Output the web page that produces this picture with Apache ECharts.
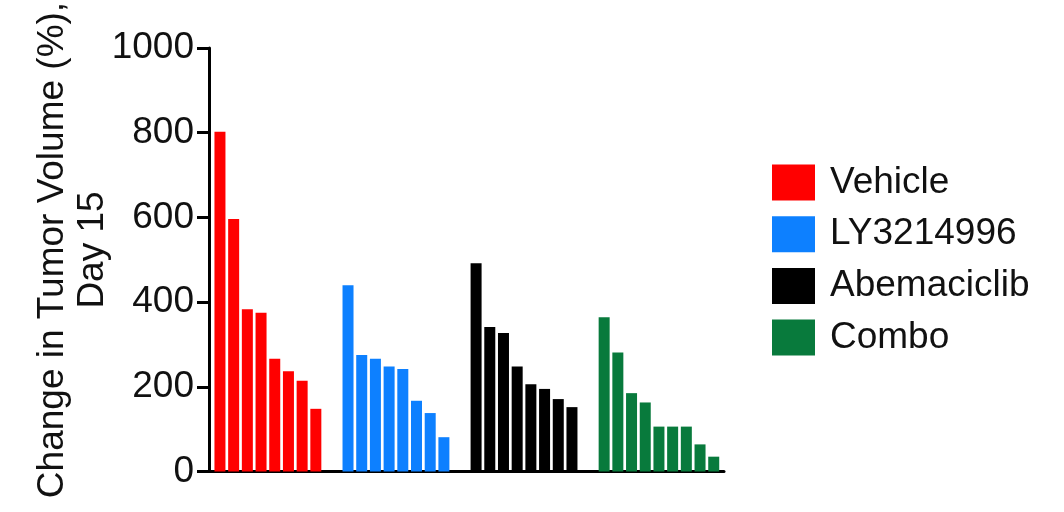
<!DOCTYPE html>
<html>
<head>
<meta charset="utf-8">
<style>
  html, body { margin: 0; padding: 0; background: #ffffff; }
  #chart { width: 1064px; height: 512px; }
</style>
<script src="https://cdn.jsdelivr.net/npm/echarts@6/dist/echarts.min.js"></script>
</head>
<body>
<div id="chart"></div>
<script>
// Per-animal change in tumor volume at day 15, sorted high to low within each arm
const groups = ['Vehicle', 'LY3214996', 'Abemaciclib', 'Combo'];
const vehicle = [802, 596, 383, 375, 266, 237, 214, 148];
const ly3214996 = [440, 275, 266, 248, 242, 167, 138, 81];
const abemaciclib = [492, 341, 327, 248, 206, 195, 171, 152];
const combo = [364, 281, 185, 163, 106, 106, 106, 64, 35];
const yTicks = [0, 200, 400, 600, 800, 1000];

const groupColors = ['#ff0000', '#0d80ff', '#000000', '#087a3c'];
const groupValues = [vehicle, ly3214996, abemaciclib, combo];

// Waterfall layout: one slot per animal, arms separated by a short gap
const GROUP_STEP = 9.35;
const X_MIN = -0.8;
const X_MAX = 36.8;

const FONT = '"Liberation Sans", Arial, Helvetica, sans-serif';
const FONT_SIZE = 37;

const series = groups.map((name, g) => ({
  name: name,
  type: 'bar',
  barWidth: 11,
  barGap: '-100%',
  itemStyle: { color: groupColors[g] },
  data: groupValues[g].map((v, i) => [g * GROUP_STEP + i, v]),
  silent: true,
  animation: false
}));

const chart = echarts.init(document.getElementById('chart'), null, { renderer: 'canvas' });
chart.setOption({
  animation: false,
  backgroundColor: '#ffffff',
  grid: { left: 209, right: 340, top: 48, bottom: 40.5, containLabel: false },
  xAxis: {
    type: 'value',
    min: X_MIN,
    max: X_MAX,
    axisLine: { show: true, onZero: false, lineStyle: { color: '#000', width: 3 } },
    axisTick: { show: false },
    axisLabel: { show: false },
    splitLine: { show: false }
  },
  yAxis: {
    type: 'value',
    min: yTicks[0],
    max: yTicks[yTicks.length - 1],
    interval: yTicks[1] - yTicks[0],
    axisLine: { show: true, onZero: false, lineStyle: { color: '#000', width: 3 } },
    axisTick: { show: true, length: 12, lineStyle: { color: '#000', width: 3 } },
    axisLabel: {
      color: '#111',
      fontFamily: FONT,
      fontSize: FONT_SIZE,
      margin: 15,
      formatter: (v) => String(v)
    },
    splitLine: { show: false }
  },
  legend: {
    orient: 'vertical',
    left: 772,
    top: 164,
    padding: 0,
    itemWidth: 43,
    itemHeight: 36,
    itemGap: 14.7,
    icon: 'rect',
    selectedMode: false,
    textStyle: {
      color: '#111',
      fontFamily: FONT,
      fontSize: FONT_SIZE,
      lineHeight: 36,
      padding: [0, 0, 0, 10]
    },
    data: groups.map((name, g) => ({ name: name, itemStyle: { color: groupColors[g] } }))
  },
  graphic: [{
    type: 'text',
    x: 73,
    y: 250,
    rotation: Math.PI / 2,
    style: {
      text: 'Change in Tumor Volume (%),\nDay 15',
      fill: '#111',
      font: FONT_SIZE + 'px ' + FONT,
      align: 'center',
      verticalAlign: 'middle',
      lineHeight: 40
    }
  }],
  series: series
});
</script>
</body>
</html>
